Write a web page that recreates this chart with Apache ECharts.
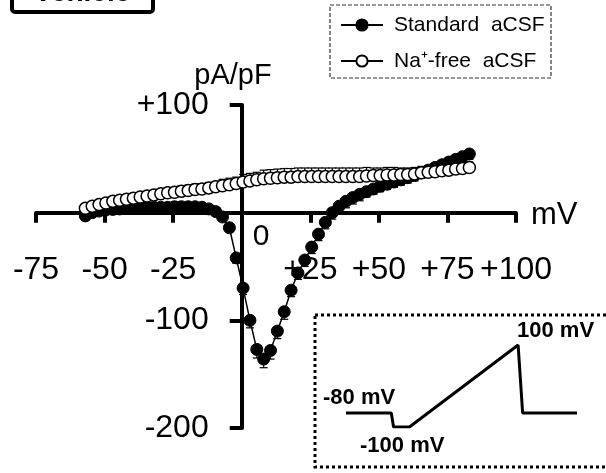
<!DOCTYPE html>
<html>
<head>
<meta charset="utf-8">
<script src="https://cdn.jsdelivr.net/npm/echarts@6/dist/echarts.min.js"></script>
<style>
  html, body { margin: 0; padding: 0; background: #fff; }
  #chart { width: 606px; height: 473px; }
</style>
</head>
<body>
<div id="chart"></div>
<script>
// Membrane potential of each ramp bin (mV)
const voltage = [-57, -54.5, -52, -49.5, -47, -44.5, -42, -39.5, -37, -34.5, -32, -29.5, -27, -24.5, -22, -19.5, -17, -14.5, -12, -9.5,
  -7, -4.5, -2, 0.5, 3, 5.5, 8, 10.5, 13, 15.5, 18, 20.5, 23, 25.5, 28, 30.5, 33, 35.5, 38, 40.5,
  43, 45.5, 48, 50.5, 53, 55.5, 58, 60.5, 63, 65.5, 68, 70.5, 73, 75.5, 78, 80.5, 83];

// Current density, standard aCSF (pA/pF), mean and SEM
const standardMean = [-3, 0, 1.5, 2.5, 3, 3.5, 4, 4.5, 4.5, 5, 5, 5, 5, 5.5, 5.5, 5.5, 5.5, 5, 3.5, 1,
  -4, -14, -42, -70, -100, -127, -136, -128, -110, -92, -72, -56, -44, -32, -20, -9, 0, 6, 10.5, 14,
  17, 19.5, 22, 24.5, 26.5, 28.5, 30.5, 32.5, 34.5, 37, 39.5, 42, 44.5, 47, 49.5, 52, 54.5];
const standardSem = [2, 2, 2, 2, 2, 2, 2, 2, 2, 2, 2, 2, 2, 2, 2, 2, 2, 2, 3, 3,
  3, 4, 5, 6, 7, 8, 8, 8, 7, 7, 6, 6, 6, 6, 6, 6, 6, 6, 6, 6,
  6, 5, 5, 5, 5, 5, 5, 5, 5, 5, 5, 5, 5, 5, 5, 5, 5];

// Current density, Na+-free aCSF (pA/pF), mean and SEM
const naFreeMean = [4, 6, 7.5, 9, 10.5, 11.5, 12.5, 13.5, 14.5, 15.5, 16.5, 17.5, 18.5, 19, 20, 20.5, 21.5, 22, 23, 24,
  25, 26, 27, 28.5, 29.5, 30.5, 31.5, 32, 32.5, 33, 33, 33.5, 33.5, 33.5, 33.5, 33.5, 33.5, 33.5, 33.5, 33.5,
  33.5, 34, 34.5, 34.5, 35, 35, 35.5, 35.5, 36, 37, 37.5, 38, 39, 39.5, 40.5, 41, 42];
const naFreeSem = [3, 3, 3, 3, 3, 3, 3, 3, 4, 4, 4, 4, 4, 4, 5, 5, 5, 5, 5, 5,
  6, 6, 6, 7, 7, 7, 8, 8, 8, 8, 8, 8, 8, 8, 8, 8, 8, 8, 8, 8,
  8, 8, 7, 7, 7, 7, 6, 6, 6, 6, 6, 5, 5, 5, 5, 5, 5];

// Axis ticks
const xTicks = [-75, -50, -25, 0, 25, 50, 75, 100];
const yTicks = [-200, -100, 0, 100];

// Voltage protocol sketch: time (ms) and drawn level (schematic, not to scale)
const protocolTime = [0, 100, 105, 140, 380, 390, 510];
const protocolLevel = [0, 0, -14, -14, 68, 0, 0];
const holdingMv = -80, stepMv = -100, rampTopMv = 100;

const seriesNames = ['Standard  aCSF', 'Na\u207A-free  aCSF'];

const pairs = (xs, ys) => xs.map((x, i) => [x, ys[i]]);
const triples = (xs, ys, es) => xs.map((x, i) => [x, ys[i], es[i]]);

function errorBar(direction) {
  return function (params, api) {
    const x = api.value(0), y = api.value(1), e = api.value(2);
    const p0 = api.coord([x, y]);
    const p1 = api.coord([x, y + direction * e]);
    const half = 4;
    const st = { stroke: '#000', lineWidth: 1.2 };
    return {
      type: 'group',
      children: [
        { type: 'line', shape: { x1: p0[0], y1: p0[1], x2: p1[0], y2: p1[1] }, style: st },
        { type: 'line', shape: { x1: p1[0] - half, y1: p1[1], x2: p1[0] + half, y2: p1[1] }, style: st }
      ]
    };
  };
}

const FONT = 'Liberation Sans, Arial, sans-serif';
const signed = v => v === 0 ? '' : (v > 0 ? '+' + v : String(v));

// main plot box; the two axes cross at the origin, so shift each axis in from its edge
const W = 606, H = 473;
const plot = { left: 36, right: 90, top: 105, bottom: 45 };
const plotW = W - plot.left - plot.right;
const plotH = H - plot.top - plot.bottom;
const xMin = xTicks[0], xMax = xTicks[xTicks.length - 1];
const yMin = yTicks[0], yMax = yTicks[yTicks.length - 1];
const xAxisShift = -(0 - yMin) / (yMax - yMin) * plotH;  // bottom axis moved up to y = 0
const yAxisShift = -(0 - xMin) / (xMax - xMin) * plotW;  // left axis moved right to x = 0

const legendText = { fontSize: 21, fontFamily: FONT, color: '#000', lineHeight: 22, padding: [0, 0, 0, 6] };

const chart = echarts.init(document.getElementById('chart'), null, { renderer: 'canvas' });

chart.setOption({
  animation: false,
  backgroundColor: '#fff',
  grid: [
    Object.assign({ containLabel: false, outerBoundsMode: 'none' }, plot),
    { left: 346, top: 345, width: 231, height: 82, containLabel: false, outerBoundsMode: 'none' }
  ],
  xAxis: [
    {
      gridIndex: 0, type: 'value', min: xMin, max: xMax, interval: 25,
      position: 'bottom', offset: xAxisShift,
      axisLine: { onZero: false, lineStyle: { color: '#000', width: 4 } },
      axisTick: { show: true, inside: false, length: 10, lineStyle: { color: '#000', width: 4 } },
      axisLabel: { margin: 42, color: '#000', fontSize: 32, fontFamily: FONT, formatter: signed },
      splitLine: { show: false }
    },
    { gridIndex: 1, type: 'value', min: 0, max: 510, show: false }
  ],
  yAxis: [
    {
      gridIndex: 0, type: 'value', min: yMin, max: yMax, interval: 100,
      position: 'left', offset: yAxisShift,
      axisLine: { onZero: false, lineStyle: { color: '#000', width: 4 } },
      axisTick: { show: true, inside: false, length: 12, lineStyle: { color: '#000', width: 4 } },
      axisLabel: { margin: 33, color: '#000', fontSize: 32, fontFamily: FONT, formatter: signed },
      splitLine: { show: false }
    },
    { gridIndex: 1, type: 'value', min: -14, max: 68, show: false }
  ],
  legend: [
    {
      data: [seriesNames[0]], left: 340, top: 14, padding: 0, itemWidth: 42, itemHeight: 14,
      textStyle: legendText
    },
    {
      data: [seriesNames[1]], left: 340, top: 50, padding: 0, itemWidth: 42, itemHeight: 14,
      textStyle: legendText
    }
  ],
  series: [
    {
      type: 'custom', xAxisIndex: 0, yAxisIndex: 0, z: 1, silent: true,
      renderItem: errorBar(-1), data: triples(voltage, standardMean, standardSem)
    },
    {
      type: 'custom', xAxisIndex: 0, yAxisIndex: 0, z: 1, silent: true,
      renderItem: errorBar(1), data: triples(voltage, naFreeMean, naFreeSem)
    },
    {
      name: seriesNames[0], type: 'line', xAxisIndex: 0, yAxisIndex: 0, z: 3,
      data: pairs(voltage, standardMean),
      symbol: 'circle', symbolSize: 12, showAllSymbol: true,
      lineStyle: { color: '#000', width: 1.5 },
      itemStyle: { color: '#000', borderColor: '#000', borderWidth: 1 }
    },
    {
      name: seriesNames[1], type: 'line', xAxisIndex: 0, yAxisIndex: 0, z: 4,
      data: pairs(voltage, naFreeMean),
      symbol: 'circle', symbolSize: 12, showAllSymbol: true,
      lineStyle: { color: '#000', width: 1.5 },
      itemStyle: { color: '#fff', borderColor: '#000', borderWidth: 1.5 }
    },
    {
      type: 'line', xAxisIndex: 1, yAxisIndex: 1, silent: true,
      data: pairs(protocolTime, protocolLevel), symbol: 'none',
      lineStyle: { color: '#000', width: 3 }
    }
  ],
  graphic: [
    // panel title box (runs off the top edge)
    { type: 'rect', shape: { x: 12, y: -40, width: 141, height: 52, r: 3 },
      style: { fill: '#fff', stroke: '#000', lineWidth: 4 } },
    { type: 'text', x: 82, y: -7,
      style: { text: 'Vehicle', font: 'bold 28px ' + FONT, fill: '#000', textAlign: 'center', textVerticalAlign: 'middle' } },
    // legend frame
    { type: 'rect', shape: { x: 330, y: 5, width: 221, height: 73 },
      style: { fill: 'none', stroke: '#333', lineWidth: 1.2, lineDash: [4, 2] }, z: 10 },
    // axis titles and the origin label
    { type: 'text', x: 233, y: 76,
      style: { text: 'pA/pF', font: '29px ' + FONT, fill: '#000', textAlign: 'center', textVerticalAlign: 'middle' } },
    { type: 'text', x: 531, y: 215,
      style: { text: 'mV', font: '31px ' + FONT, fill: '#000', textAlign: 'left', textVerticalAlign: 'middle' } },
    { type: 'text', x: 261, y: 237,
      style: { text: '0', font: '30px ' + FONT, fill: '#000', textAlign: 'center', textVerticalAlign: 'middle' } },
    // protocol inset frame and labels
    { type: 'rect', shape: { x: 315, y: 315, width: 300, height: 152 },
      style: { fill: 'none', stroke: '#000', lineWidth: 3, lineDash: [3, 3] } },
    { type: 'text', x: 323, y: 398,
      style: { text: holdingMv + ' mV', font: 'bold 22px ' + FONT, fill: '#000', textAlign: 'left', textVerticalAlign: 'middle' } },
    { type: 'text', x: 360, y: 446,
      style: { text: stepMv + ' mV', font: 'bold 22px ' + FONT, fill: '#000', textAlign: 'left', textVerticalAlign: 'middle' } },
    { type: 'text', x: 517, y: 331,
      style: { text: rampTopMv + ' mV', font: 'bold 22px ' + FONT, fill: '#000', textAlign: 'left', textVerticalAlign: 'middle' } }
  ]
});
</script>
</body>
</html>
